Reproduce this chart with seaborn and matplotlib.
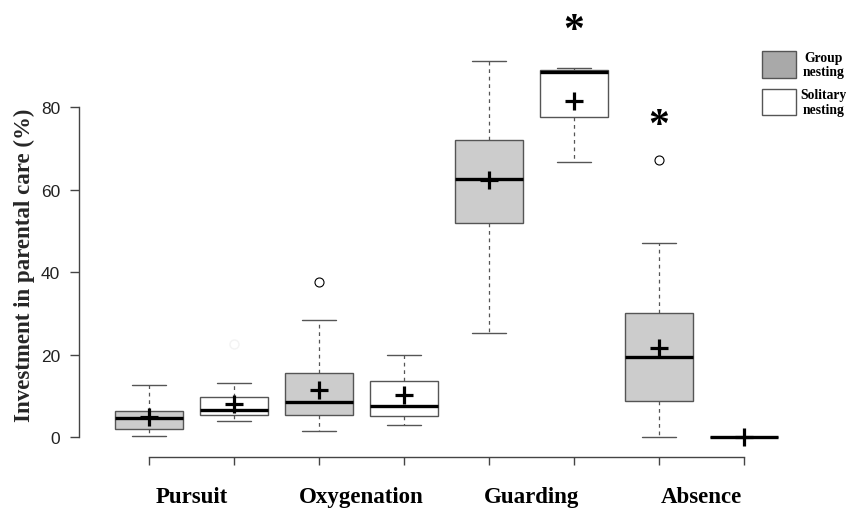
import numpy as np
import pandas as pd
import matplotlib
matplotlib.use("Agg")
import matplotlib.pyplot as plt
import seaborn as sns
from matplotlib.patches import Rectangle

# ---------------- data ----------------
behaviours = ["Pursuit", "Oxygenation", "Guarding", "Absence"]
nesting = ["Group\nnesting", "Solitary\nnesting"]

# order of boxes: Pursuit G, Pursuit S, Oxygenation G, Oxygenation S, Guarding G, Guarding S, Absence G, Absence S
whisker_low = [0.2, 4.0, 1.5, 3.0, 25.2, 66.7, 0.0, 0.0]
q1 = [1.9, 5.3, 5.4, 5.1, 51.8, 77.6, 8.7, 0.0]
median = [4.6, 6.5, 8.4, 7.4, 62.5, 88.6, 19.5, 0.0]
q3 = [6.3, 9.7, 15.6, 13.6, 72.0, 89.0, 30.0, 0.0]
whisker_high = [12.6, 13.1, 28.4, 20.0, 91.1, 89.6, 47.0, 0.0]
means = [4.8, 8.0, 11.5, 10.2, 62.3, 81.4, 21.6, 0.1]

outlier_box = [2, 6]
outlier_val = [37.5, 67.3]
faint_outlier_box = [1]
faint_outlier_val = [22.5]

star_box = [5, 6]
star_val = [100.6, 77.6]

yticks = [0, 20, 40, 60, 80]
ylabel = "Investment in parental care (%)"

# ---------------- tables ----------------
rows = []
for i in range(len(median)):
    for v in (whisker_low[i], q1[i], median[i], q3[i], whisker_high[i]):
        rows.append({"behaviour": behaviours[i // 2], "nesting": nesting[i % 2], "value": v})
df = pd.DataFrame(rows)

mean_df = pd.DataFrame({"behaviour": [behaviours[i // 2] for i in range(len(means))],
                        "nesting": [nesting[i % 2] for i in range(len(means))],
                        "value": means})
out_df = pd.DataFrame({"behaviour": [behaviours[i // 2] for i in outlier_box],
                       "nesting": [nesting[i % 2] for i in outlier_box],
                       "value": outlier_val})
faint_df = pd.DataFrame({"behaviour": [behaviours[i // 2] for i in faint_outlier_box],
                         "nesting": [nesting[i % 2] for i in faint_outlier_box],
                         "value": faint_outlier_val})

# ---------------- style ----------------
sns.set_theme(style="ticks")
plt.rcParams["font.family"] = ["Liberation Sans", "DejaVu Sans"]
serif_bold = dict(family=["Liberation Serif", "DejaVu Serif"], weight="bold")

W, H = 846, 510
fig = plt.figure(figsize=(W / 100, H / 100), dpi=100)
ax_left, ax_right = 79 / W, 840 / W
ax_bottom, ax_top = 1 - 458 / H, 1 - 10 / H
ax = fig.add_axes([ax_left, ax_bottom, ax_right - ax_left, ax_top - ax_bottom])

edge = "#555555"
fills = ["#cccccc", "white"]
sns.boxplot(data=df, x="behaviour", y="value", hue="nesting",
            order=behaviours, hue_order=nesting,
            palette=fills, saturation=1,
            width=1.0, gap=0.2, whis=(0, 100), fliersize=0,
            linecolor=edge, linewidth=1.0,
            medianprops=dict(color="black", linewidth=2.4),
            whiskerprops=dict(linestyle=(0, (3, 3)), color=edge, linewidth=0.9),
            capprops=dict(color=edge, linewidth=1.0),
            legend=False, ax=ax)

dodge = 0.5
sns.pointplot(data=mean_df, x="behaviour", y="value", hue="nesting",
              order=behaviours, hue_order=nesting, dodge=dodge,
              palette=["black", "black"], markers="+", linestyles="none",
              errorbar=None, markersize=13, markeredgewidth=2.3,
              legend=False, ax=ax, zorder=5)
sns.pointplot(data=out_df, x="behaviour", y="value", hue="nesting",
              order=behaviours, hue_order=nesting, dodge=dodge,
              palette=["black", "black"], markers="o", linestyles="none",
              errorbar=None, markersize=6.5, markeredgewidth=0.8,
              markerfacecolor="none", legend=False, ax=ax)
sns.pointplot(data=faint_df, x="behaviour", y="value", hue="nesting",
              order=behaviours, hue_order=nesting, dodge=dodge,
              palette=["#f3f3f3", "#f3f3f3"], markers="o", linestyles="none",
              errorbar=None, markersize=6.5, markeredgewidth=1.0,
              markerfacecolor="none", legend=False, ax=ax)

offsets = [-dodge / 2, dodge / 2]
box_pos = [c + o for c in range(len(behaviours)) for o in offsets]

for b, v in zip(star_box, star_val):
    ax.annotate("*", xy=(box_pos[b], v), xytext=(0, -13.5), textcoords="offset points",
                ha="center", va="baseline", fontsize=30, color="black", **serif_bold)

# ---------------- axes ----------------
x_lo = -0.25 - (149 - 79) / 170
x_hi = -0.25 + (840 - 149) / 170
ax.set_xlim(x_lo, x_hi)
ax.set_ylim(-4.85, 103.8)

for s in ("top", "right"):
    ax.spines[s].set_visible(False)
ax.spines["left"].set_bounds(0, 80)
ax.spines["bottom"].set_bounds(box_pos[0], box_pos[-1])
for s in ("left", "bottom"):
    ax.spines[s].set_color("#444444")
    ax.spines[s].set_linewidth(1.0)

ax.set_yticks(yticks)
ax.set_yticklabels([str(t) for t in yticks], fontsize=12.5, color="#222222")
ax.tick_params(axis="y", direction="out", length=6.5, width=1.0, color="#444444", pad=7)

ax.set_xticks(box_pos)
ax.set_xticklabels([""] * len(box_pos))
ax.tick_params(axis="x", which="major", direction="out", length=6, width=1.0, color="#444444")
ax.set_xticks(range(len(behaviours)), minor=True)
ax.set_xticklabels(behaviours, minor=True, fontsize=16.5, **serif_bold)
ax.tick_params(axis="x", which="minor", length=0, pad=21, colors="black")

ax.set_xlabel("")
ax.set_ylabel(ylabel, fontsize=16.5, **serif_bold)
ax.yaxis.set_label_coords((35 - 79) / 761, (458 - 265) / 448)

# ---------------- legend (key boxes + centred two-line labels) ----------------
key_fills = ["#a9a9a9", "white"]
key_top = [52, 90]
key_h = [27, 26]
for lab, fc, top, h in zip(nesting, key_fills, key_top, key_h):
    fig.add_artist(Rectangle((762 / W, 1 - (top + h) / H), 34 / W, h / H,
                             transform=fig.transFigure, facecolor=fc,
                             edgecolor=edge, linewidth=1.0))
    fig.text(823.5 / W, 1 - (top + h / 2) / H, lab, ha="center", va="center",
             multialignment="center", linespacing=1.15, fontsize=9.8,
             family="Liberation Serif", weight="bold", color="black")

fig.savefig("out.png", dpi=100)
